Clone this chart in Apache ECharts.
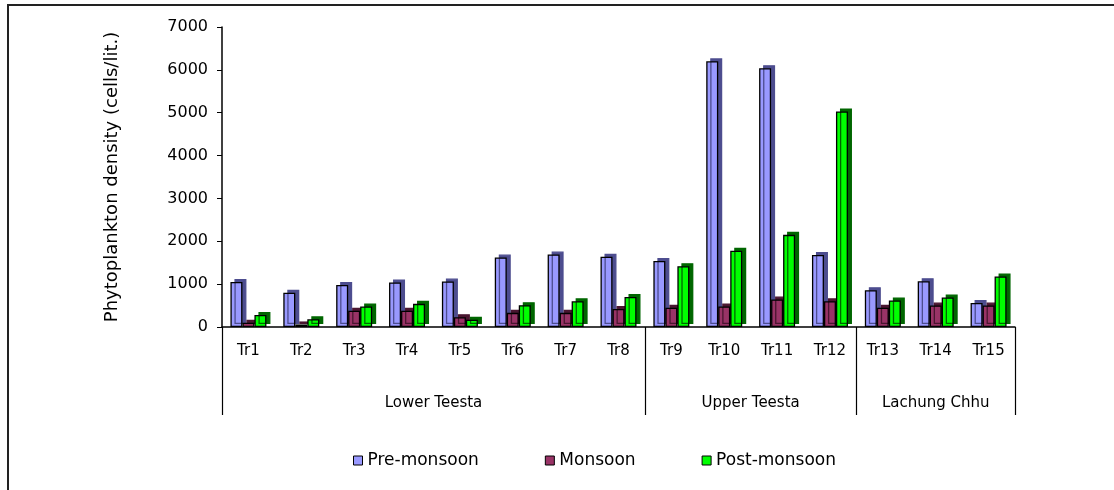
<!DOCTYPE html>
<html>
<head>
<meta charset="utf-8">
<script src="https://cdn.jsdelivr.net/npm/echarts@6/dist/echarts.min.js"></script>
<style>html,body{margin:0;padding:0;background:#fff}#c{width:1114px;height:490px}</style>
</head>
<body>
<div id="c"></div>
<script>
const categories = ['Tr1','Tr2','Tr3','Tr4','Tr5','Tr6','Tr7','Tr8','Tr9','Tr10','Tr11','Tr12','Tr13','Tr14','Tr15'];
const preMonsoon  = [1050, 800, 980, 1040, 1060, 1620, 1690, 1640, 1540, 6200, 6040, 1680, 860, 1070, 560];
const monsoon     = [100, 60, 380, 380, 230, 330, 330, 420, 450, 480, 640, 600, 450, 500, 500];
const postMonsoon = [280, 180, 480, 540, 170, 510, 600, 700, 1420, 1780, 2150, 5030, 620, 690, 1180];
const groups = [{name:'Lower Teesta', from:0, to:8},{name:'Upper Teesta', from:8, to:12},{name:'Lachung Chhu', from:12, to:15}];
const yTicks = [0,1000,2000,3000,4000,5000,6000,7000];

const groupBounds = [0].concat(groups.map(g => g.to));
const groupCenters = groups.map(g => (g.from + g.to) / 2);
const font = 'DejaVu Sans, Verdana, sans-serif';

function barSeries(name, data, color, side) {
  return {
    name, type:'bar', data, xAxisIndex:0, barWidth:12, barGap:'0%',
    itemStyle:{color, borderColor:'#000', borderWidth:1.3, shadowColor:side, shadowBlur:0, shadowOffsetX:4, shadowOffsetY:-3},
    emphasis:{disabled:true}
  };
}

const chart = echarts.init(document.getElementById('c'));
chart.setOption({
  animation:false,
  backgroundColor:'#fff',
  textStyle:{fontFamily:font},
  graphic:[{type:'rect', shape:{x:8, y:5, width:1200, height:600}, style:{fill:'none', stroke:'#222', lineWidth:2}}],
  grid:{left:222, right:99, top:27, bottom:163},
  legend:{
    bottom:16, left:348, itemWidth:9, itemHeight:9, itemGap:66, icon:'rect',
    textStyle:{fontFamily:font, fontSize:17, color:'#000'},
    itemStyle:{borderColor:'#000', borderWidth:1},
    data:['Pre-monsoon','Monsoon','Post-monsoon']
  },
  xAxis:[
    {type:'category', data:categories, position:'bottom',
     axisLine:{lineStyle:{color:'#000', width:1.5}},
     axisTick:{length:45, lineStyle:{color:'#000', width:1.2}},
     axisLabel:{color:'#000', fontSize:15, fontFamily:font, margin:17}},
    {type:'value', min:0, max:15, position:'bottom',
     axisLine:{show:false}, splitLine:{show:false},
     axisTick:{show:true, customValues:groupBounds, length:88, lineStyle:{color:'#000', width:1.2}},
     axisLabel:{customValues:groupCenters, color:'#000', fontSize:15, fontFamily:font, margin:69,
       formatter:function(v){ const g = groups.find(g => Math.abs((g.from+g.to)/2 - v) < 1e-6); return g ? g.name : ''; }}}
  ],
  yAxis:{
    type:'value', min:0, max:7000, interval:1000,
    name:'Phytoplankton density (cells/lit.)', nameLocation:'middle', nameGap:101, nameRotate:90,
    nameTextStyle:{color:'#000', fontSize:18, fontFamily:font},
    axisLine:{show:true, lineStyle:{color:'#000', width:1.5}},
    axisTick:{show:true, length:5, lineStyle:{color:'#000'}},
    axisLabel:{color:'#000', fontSize:16, fontFamily:font, margin:14, customValues:yTicks, formatter:function(v){return String(v);}},
    splitLine:{show:false}
  },
  series:[
    barSeries('Pre-monsoon', preMonsoon, '#9999FF', '#4d4d8f'),
    barSeries('Monsoon', monsoon, '#993366', '#4a1630'),
    barSeries('Post-monsoon', postMonsoon, '#00FF00', '#006600')
  ]
});
</script>
</body>
</html>
